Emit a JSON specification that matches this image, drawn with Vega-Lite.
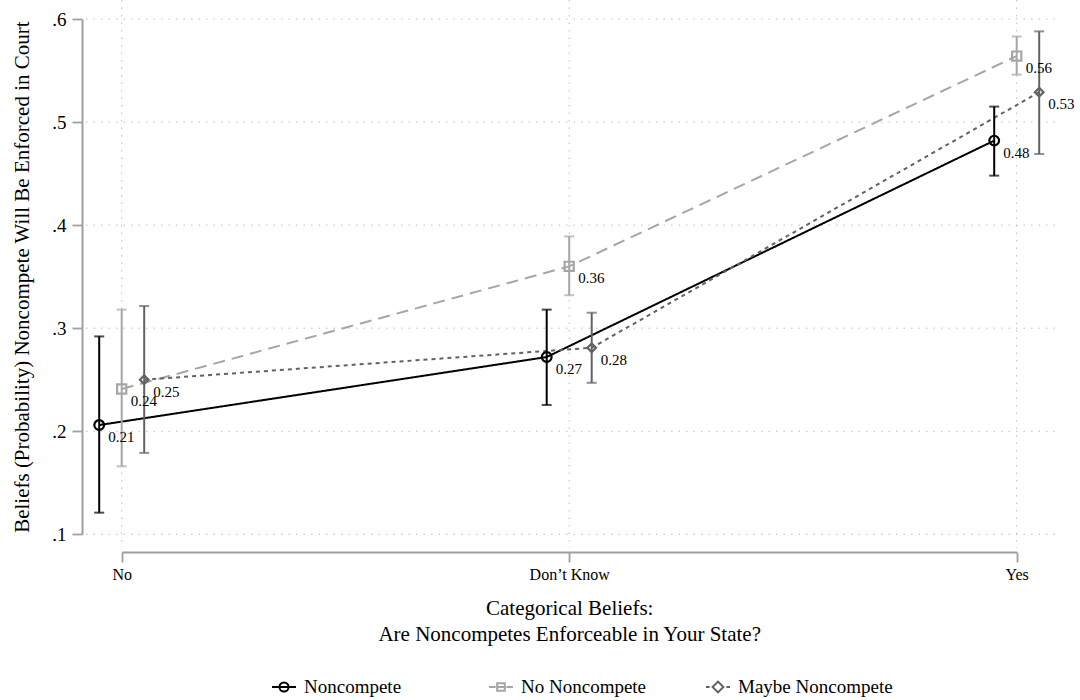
{
  "$schema": "https://vega.github.io/schema/vega-lite/v6.json",
  "width": 973,
  "height": 548,
  "autosize": "none",
  "padding": {"left": 82, "top": 0, "right": 25, "bottom": 152},
  "background": "white",
  "config": {
    "view": {"stroke": null},
    "font": "Liberation Serif",
    "axis": {
      "domainColor": "#a0a0a0",
      "domainWidth": 2,
      "tickColor": "#a0a0a0",
      "tickWidth": 1.8,
      "tickSize": 10,
      "grid": false,
      "labelColor": "black",
      "titleColor": "black",
      "labelFont": "Liberation Serif",
      "titleFont": "Liberation Serif",
      "titleFontWeight": "normal"
    }
  },
  "data": {
    "values": [
      {"series": "Noncompete", "cat": "No", "mean": 0.206, "lo": 0.121, "hi": 0.292},
      {"series": "Noncompete", "cat": "Don’t Know", "mean": 0.272, "lo": 0.2255, "hi": 0.318},
      {"series": "Noncompete", "cat": "Yes", "mean": 0.482, "lo": 0.448, "hi": 0.515},
      {"series": "No Noncompete", "cat": "No", "mean": 0.241, "lo": 0.166, "hi": 0.318},
      {"series": "No Noncompete", "cat": "Don’t Know", "mean": 0.36, "lo": 0.332, "hi": 0.389},
      {"series": "No Noncompete", "cat": "Yes", "mean": 0.564, "lo": 0.546, "hi": 0.583},
      {"series": "Maybe Noncompete", "cat": "No", "mean": 0.25, "lo": 0.179, "hi": 0.3215},
      {"series": "Maybe Noncompete", "cat": "Don’t Know", "mean": 0.281, "lo": 0.247, "hi": 0.315},
      {"series": "Maybe Noncompete", "cat": "Yes", "mean": 0.529, "lo": 0.469, "hi": 0.588}
    ]
  },
  "layer": [
    {
      "data": {"values": [{"v": 0.1}, {"v": 0.2}, {"v": 0.3}, {"v": 0.4}, {"v": 0.5}, {"v": 0.6}]},
      "mark": {"type": "rule", "color": "#bdbdbd", "strokeWidth": 1, "strokeDash": [1.5, 6]},
      "encoding": {
        "y": {
          "field": "v", "type": "quantitative",
          "scale": {"domain": [0.1, 0.6], "range": [534.3, 19], "nice": false, "zero": false},
          "axis": {
            "values": [0.1, 0.2, 0.3, 0.4, 0.5, 0.6],
            "labelExpr": "replace(format(datum.value, '.1f'), '0.', '.')",
            "domain": true,
            "labelFontSize": 19,
            "labelPadding": 6,
            "titleFontSize": 21,
            "titlePadding": 19
          },
          "title": "Beliefs (Probability) Noncompete Will Be Enforced in Court"
        }
      }
    },
    {
      "data": {"values": [{"cat": "No"}, {"cat": "Don’t Know"}, {"cat": "Yes"}]},
      "mark": {"type": "rule", "color": "#bdbdbd", "strokeWidth": 1, "strokeDash": [1.5, 6]},
      "encoding": {
        "x": {
          "field": "cat", "type": "nominal", "sort": ["No", "Don’t Know", "Yes"],
          "scale": {"type": "point", "range": [39.7, 934.7], "padding": 0},
          "axis": {
            "offset": 4,
            "labelFontSize": 16,
            "labelPadding": 4,
            "labelAngle": 0,
            "labelAlign": "center",
            "labelBaseline": "top",
            "titleFontSize": 21,
            "titleLineHeight": 26,
            "titlePadding": 15
          },
          "title": ["Categorical Beliefs:", "Are Noncompetes Enforceable in Your State?"]
        }
      }
    },
    {
      "encoding": {
        "x": {
          "field": "cat",
          "type": "nominal",
          "sort": ["No", "Don’t Know", "Yes"],
          "scale": {"type": "point", "range": [39.7, 934.7], "padding": 0},
          "axis": {
            "offset": 4,
            "labelFontSize": 16,
            "labelPadding": 4,
            "labelAngle": 0,
            "labelAlign": "center",
            "labelBaseline": "top",
            "titleFontSize": 21,
            "titleLineHeight": 26,
            "titlePadding": 15
          },
          "title": ["Categorical Beliefs:", "Are Noncompetes Enforceable in Your State?"]
        },
        "xOffset": {
          "field": "series",
          "type": "nominal",
          "sort": ["Noncompete", "No Noncompete", "Maybe Noncompete"],
          "scale": {"type": "point", "range": [-22.5, 22.5], "padding": 0}
        },
        "y": {
          "field": "mean",
          "type": "quantitative",
          "scale": {"domain": [0.1, 0.6], "range": [534.3, 19], "nice": false, "zero": false},
          "axis": {
            "values": [0.1, 0.2, 0.3, 0.4, 0.5, 0.6],
            "labelExpr": "replace(format(datum.value, '.1f'), '0.', '.')",
            "domain": true,
            "labelFontSize": 19,
            "labelPadding": 6,
            "titleFontSize": 21,
            "titlePadding": 19
          },
          "title": "Beliefs (Probability) Noncompete Will Be Enforced in Court"
        }
      },
      "layer": [
        {
          "mark": {"type": "line", "strokeWidth": 2},
          "encoding": {
            "color": {"field": "series", "type": "nominal", "scale": {"domain": ["Noncompete", "No Noncompete", "Maybe Noncompete"], "range": ["#000000", "#a6a6a6", "#626262"]}, "legend": null},
            "strokeDash": {"field": "series", "type": "nominal", "scale": {"domain": ["Noncompete", "No Noncompete", "Maybe Noncompete"], "range": [[1, 0], [12, 7], [4, 4]]}, "legend": null}
          }
        },
        {
          "mark": {"type": "rule", "strokeWidth": 2},
          "encoding": {
            "y": {"field": "lo", "type": "quantitative", "title": "Beliefs (Probability) Noncompete Will Be Enforced in Court"},
            "y2": {"field": "hi"},
            "color": {"field": "series", "type": "nominal", "scale": {"domain": ["Noncompete", "No Noncompete", "Maybe Noncompete"], "range": ["#000000", "#a6a6a6", "#626262"]}, "legend": null}
          }
        },
        {
          "mark": {"type": "tick", "size": 10, "thickness": 2},
          "encoding": {
            "y": {"field": "lo", "type": "quantitative", "title": "Beliefs (Probability) Noncompete Will Be Enforced in Court"},
            "color": {"field": "series", "type": "nominal", "scale": {"domain": ["Noncompete", "No Noncompete", "Maybe Noncompete"], "range": ["#000000", "#a6a6a6", "#626262"]}, "legend": null}
          }
        },
        {
          "mark": {"type": "tick", "size": 10, "thickness": 2},
          "encoding": {
            "y": {"field": "hi", "type": "quantitative", "title": "Beliefs (Probability) Noncompete Will Be Enforced in Court"},
            "color": {"field": "series", "type": "nominal", "scale": {"domain": ["Noncompete", "No Noncompete", "Maybe Noncompete"], "range": ["#000000", "#a6a6a6", "#626262"]}, "legend": null}
          }
        },
        {
          "mark": {"type": "point", "filled": false, "strokeWidth": 2.2, "opacity": 1},
          "encoding": {
            "shape": {"field": "series", "type": "nominal", "scale": {"domain": ["Noncompete", "No Noncompete", "Maybe Noncompete"], "range": ["circle", "square", "diamond"]}, "legend": null},
            "size": {"field": "series", "type": "nominal", "scale": {"domain": ["Noncompete", "No Noncompete", "Maybe Noncompete"], "range": [95, 75, 160]}, "legend": null},
            "color": {"field": "series", "type": "nominal", "scale": {"domain": ["Noncompete", "No Noncompete", "Maybe Noncompete"], "range": ["#000000", "#a6a6a6", "#626262"]}, "legend": null}
          }
        },
        {
          "mark": {"type": "text", "align": "left", "baseline": "middle", "dx": 9, "dy": 12, "fontSize": 15, "font": "Liberation Serif", "color": "black"},
          "encoding": {
            "text": {"field": "mean", "type": "quantitative", "format": ".2f"}
          }
        },
        {
          "transform": [{"filter": "false"}],
          "mark": {"type": "point", "filled": false, "strokeWidth": 2, "opacity": 1},
          "encoding": {
            "shape": {
              "field": "series", "type": "nominal",
              "scale": {"domain": ["Noncompete", "No Noncompete", "Maybe Noncompete"], "range": [
                "M-1,0H1M-0.38,0A0.38,0.38,0,1,0,0.38,0A0.38,0.38,0,1,0,-0.38,0",
                "M-1,0H-0.45M0.45,0H1M-0.32,-0.32H0.32V0.32H-0.32ZM-0.32,0H0.32",
                "M-1,0H-0.7M0.7,0H1M-0.45,0L0,-0.45L0.45,0L0,0.45Z"
              ]},
              "legend": {"orient": "none", "legendX": 189, "legendY": 674, "direction": "horizontal", "columns": 3, "gridAlign": "all", "columnPadding": 26, "symbolSize": 576, "symbolStrokeWidth": 2, "labelFontSize": 19, "labelFont": "Liberation Serif", "labelColor": "black", "labelOffset": 7, "labelLimit": 0, "title": null}
            },
            "color": {
              "field": "series", "type": "nominal",
              "scale": {"domain": ["Noncompete", "No Noncompete", "Maybe Noncompete"], "range": ["#000000", "#a6a6a6", "#626262"]},
              "legend": {"orient": "none", "legendX": 189, "legendY": 674, "direction": "horizontal", "columns": 3, "gridAlign": "all", "columnPadding": 26, "symbolSize": 576, "symbolStrokeWidth": 2, "labelFontSize": 19, "labelFont": "Liberation Serif", "labelColor": "black", "labelOffset": 7, "labelLimit": 0, "title": null}
            }
          }
        }
      ],
      "resolve": {"scale": {"color": "independent", "shape": "independent", "size": "independent", "strokeDash": "independent"}}
    }
  ]
}
